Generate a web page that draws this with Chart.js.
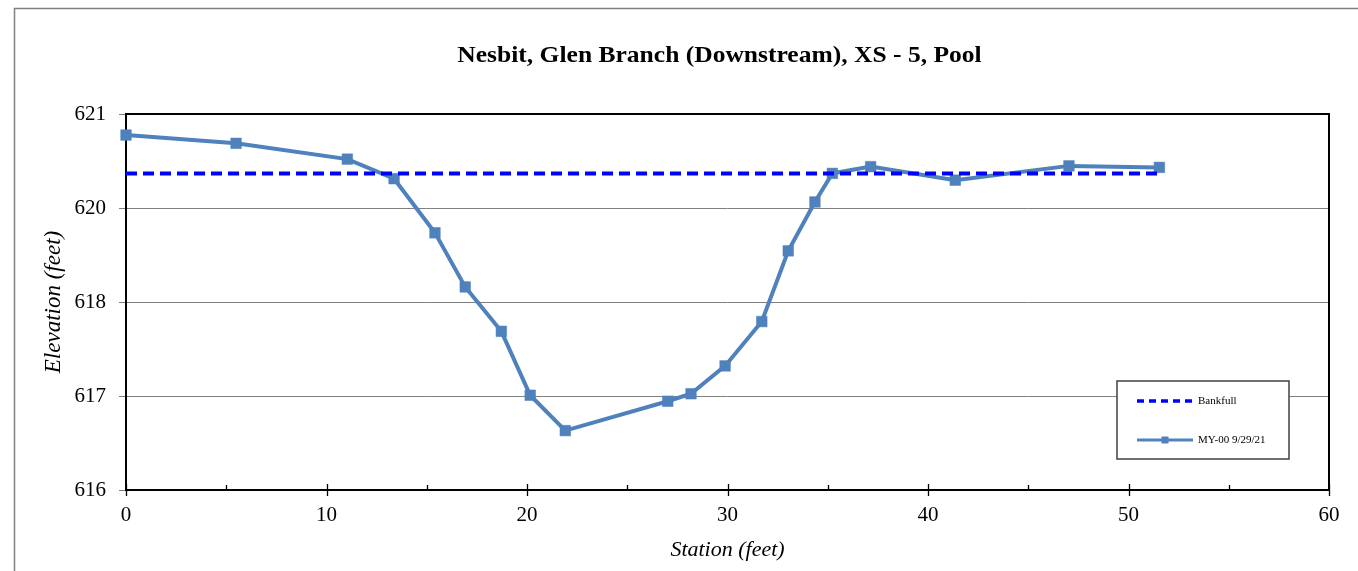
<!DOCTYPE html>
<html>
<head>
<meta charset="utf-8">
<script src="https://cdn.jsdelivr.net/npm/chart.js@4/dist/chart.umd.min.js"></script>
<style>
  html, body { margin: 0; padding: 0; background: #ffffff; }
  #wrap { position: relative; width: 1358px; height: 571px; }
  canvas { display: block; }
</style>
</head>
<body>
<div id="wrap"><canvas id="c" width="1358" height="571"></canvas></div>
<script>
// ---- Data ----
const chartTitle = 'Nesbit, Glen Branch (Downstream), XS - 5, Pool';
const xAxisTitle = 'Station (feet)';
const yAxisTitle = 'Elevation (feet)';

const stations = [0, 5.49, 11.04, 13.37, 15.41, 16.92, 18.72, 20.16, 21.91, 27.02,
                  28.18, 29.88, 31.71, 33.03, 34.36, 35.23, 37.14, 41.36, 47.03, 51.54];
const elevations = [620.72, 620.61, 620.40, 620.14, 619.42, 618.70, 618.11, 617.26, 616.79, 617.18,
                    617.28, 617.65, 618.24, 619.18, 619.83, 620.21, 620.30, 620.12, 620.31, 620.29];

const bankfullStations = [0, 51.54];
const bankfullElevations = [620.21, 620.21];

const seriesNames = ['Bankfull', 'MY-00 9/29/21'];

const yTickValues = [616, 617.25, 618.5, 619.75, 621];
const yTickLabels = ['616', '617', '618', '620', '621'];
const xMin = 0, xMax = 60, xMajorStep = 10, xMinorStep = 5;

// ---- Build ----
const serif = "'Liberation Serif', 'DejaVu Serif', serif";

const bankfullData = bankfullStations.map((x, i) => ({ x: x, y: bankfullElevations[i] }));
const surveyData = stations.map((x, i) => ({ x: x, y: elevations[i] }));

const decorPlugin = {
  id: 'decor',
  beforeDatasetsDraw(chart) {
    const ctx = chart.ctx;
    const a = chart.chartArea;
    const xs = chart.scales.x;
    ctx.save();
    // plot border
    ctx.strokeStyle = '#000000';
    ctx.lineWidth = 2;
    ctx.strokeRect(a.left, a.top, a.right - a.left, a.bottom - a.top);
    // x tick marks
    ctx.lineWidth = 1.3;
    for (let v = xMin; v <= xMax + 1e-9; v += xMinorStep) {
      const px = Math.round(xs.getPixelForValue(v)) + 0.5;
      ctx.beginPath();
      if (v % xMajorStep === 0) {
        ctx.moveTo(px, a.bottom - 6);
        ctx.lineTo(px, a.bottom + 6);
      } else {
        ctx.moveTo(px, a.bottom - 5);
        ctx.lineTo(px, a.bottom);
      }
      ctx.stroke();
    }
    ctx.restore();
  },
  afterDraw(chart) {
    const ctx = chart.ctx;
    const a = chart.chartArea;
    ctx.save();
    // outer chart border
    ctx.strokeStyle = '#808080';
    ctx.lineWidth = 1.5;
    ctx.strokeRect(14.5, 8.5, 3000, 3000);
    // title
    ctx.save();
    ctx.fillStyle = '#000000';
    ctx.font = "bold 23px " + serif;
    ctx.textAlign = 'center';
    ctx.textBaseline = 'alphabetic';
    ctx.translate(719.5, 62);
    ctx.scale(1.11, 1);
    ctx.fillText(chartTitle, 0, 0);
    ctx.restore();
    // legend
    const bx = a.right - 212, by = a.top + 267, bw = 172, bh = 78;
    ctx.fillStyle = '#ffffff';
    ctx.fillRect(bx, by, bw, bh);
    ctx.strokeStyle = '#404040';
    ctx.lineWidth = 1.5;
    ctx.strokeRect(bx, by, bw, bh);
    const ds = chart.data.datasets;
    const rows = [by + 20, by + 59];
    ds.forEach((d, i) => {
      const ly = rows[i];
      const x0 = bx + 20, x1 = bx + 76;
      ctx.save();
      ctx.strokeStyle = d.borderColor;
      ctx.lineWidth = i === 0 ? 3.5 : 3;
      ctx.setLineDash(d.borderDash ? [7, 5] : []);
      ctx.beginPath();
      ctx.moveTo(x0, ly);
      ctx.lineTo(x1, ly);
      ctx.stroke();
      ctx.restore();
      if (d.pointRadius > 0) {
        ctx.fillStyle = d.pointBackgroundColor;
        ctx.fillRect((x0 + x1) / 2 - 3.5, ly - 3.5, 7, 7);
      }
      ctx.fillStyle = '#000000';
      ctx.font = "11px " + serif;
      ctx.textAlign = 'left';
      ctx.textBaseline = 'middle';
      ctx.fillText(d.label, x1 + 5, ly);
    });
    ctx.restore();
  }
};

new Chart(document.getElementById('c'), {
  type: 'line',
  data: {
    datasets: [
      {
        label: seriesNames[0],
        data: bankfullData,
        borderColor: '#0000FF',
        backgroundColor: '#0000FF',
        borderWidth: 4,
        borderDash: [11, 6],
        pointRadius: 0,
        fill: false,
        tension: 0,
        clip: false
      },
      {
        label: seriesNames[1],
        data: surveyData,
        borderColor: '#4F81BD',
        backgroundColor: '#4F81BD',
        borderWidth: 4,
        pointStyle: 'rect',
        pointRadius: 7.5,
        pointBorderWidth: 0.5,
        pointBackgroundColor: '#4F81BD',
        pointBorderColor: '#4F81BD',
        fill: false,
        tension: 0,
        clip: false
      }
    ]
  },
  options: {
    responsive: false,
    animation: false,
    devicePixelRatio: 1,
    layout: { padding: { left: 20, right: 29, top: 114, bottom: 0 } },
    plugins: {
      legend: { display: false },
      title: { display: false },
      tooltip: { enabled: false }
    },
    scales: {
      x: {
        type: 'linear',
        min: xMin,
        max: xMax,
        afterFit: s => { s.height = 81; },
        afterBuildTicks: s => {
          const t = [];
          for (let v = xMin; v <= xMax; v += xMinorStep) t.push({ value: v });
          s.ticks = t;
        },
        ticks: {
          autoSkip: false,
          maxRotation: 0,
          padding: 13,
          color: '#000000',
          font: { family: serif, size: 21 },
          callback: v => (v % xMajorStep === 0 ? String(v) : '')
        },
        grid: { display: false, drawTicks: false },
        border: { display: false },
        title: {
          display: true,
          text: xAxisTitle,
          color: '#000000',
          font: { family: serif, size: 22, style: 'italic' },
          padding: { top: 0, bottom: 8 }
        }
      },
      y: {
        type: 'linear',
        min: 616,
        max: 621,
        afterFit: s => { s.width = 106; },
        afterBuildTicks: s => { s.ticks = yTickValues.map(v => ({ value: v })); },
        ticks: {
          padding: 13,
          color: '#000000',
          font: { family: serif, size: 21 },
          callback: (v, i) => yTickLabels[i]
        },
        grid: {
          color: '#7f7f7f',
          lineWidth: 1,
          drawTicks: true,
          tickLength: 7,
          tickColor: '#7f7f7f'
        },
        border: { display: false },
        title: {
          display: true,
          text: yAxisTitle,
          color: '#000000',
          font: { family: serif, size: 23, style: 'italic' },
          padding: { top: 20, bottom: 0 }
        }
      }
    }
  },
  plugins: [decorPlugin]
});
</script>
</body>
</html>
